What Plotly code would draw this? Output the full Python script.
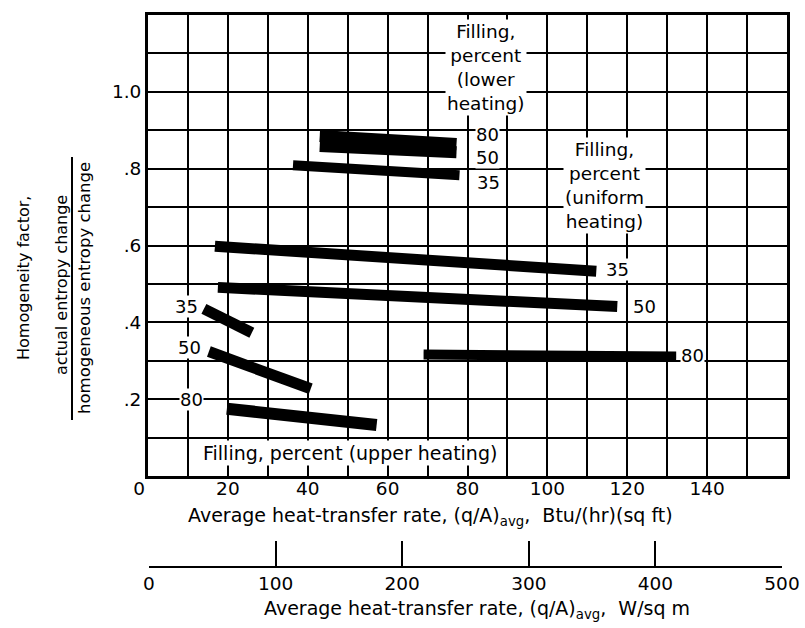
import plotly.graph_objects as go

# ---- data (x: Btu/(hr)(sq ft), y: homogeneity factor) ----
lower80_x = [43.0, 77.25]
lower80_y = [0.885, 0.864]
lower50_x = [43.0, 77.25]
lower50_y = [0.859, 0.843]
lower35_x = [36.3, 78.0]
lower35_y = [0.809, 0.783]

uniform35_x = [16.75, 112.25]
uniform35_y = [0.598, 0.533]
uniform50_x = [17.5, 117.5]
uniform50_y = [0.491, 0.441]
uniform80_x = [69.0, 132.25]
uniform80_y = [0.316, 0.311]

upper35_x = [14.0, 26.0]
upper35_y = [0.435, 0.373]
upper50_x = [15.25, 40.75]
upper50_y = [0.324, 0.227]
upper80_x = [19.75, 57.25]
upper80_y = [0.175, 0.133]

x_ticks = [0, 20, 40, 60, 80, 100, 120, 140]
x_ticktext = ["0\u00a0\u00a0\u00a0", "20", "40", "60", "80", "100", "120", "140"]
y_ticks = [0.2, 0.4, 0.6, 0.8, 1.0]
y_ticktext = [".2", ".4", ".6", ".8", "1.0"]
w_ticks = [0, 100, 200, 300, 400, 500]

FONT = "DejaVu Sans, sans-serif"

W, H = 805, 628
ML, MR, MT, MB = 148, 18, 15, 61
PW = W - ML - MR
PH = H - MT - MB
y_bottom_px = 476
ydom0 = (H - MB - y_bottom_px) / PH

fig = go.Figure()

series = [
    (lower80_x, lower80_y, 12), (lower50_x, lower50_y, 12), (lower35_x, lower35_y, 10),
    (uniform35_x, uniform35_y, 11), (uniform50_x, uniform50_y, 11), (uniform80_x, uniform80_y, 10),
    (upper35_x, upper35_y, 11), (upper50_x, upper50_y, 11), (upper80_x, upper80_y, 12),
]
for xs, ys, lw in series:
    fig.add_trace(go.Scatter(x=xs, y=ys, mode="lines",
                             line=dict(color="black", width=lw),
                             showlegend=False, hoverinfo="skip"))

# invisible trace for second (SI) axis
fig.add_trace(go.Scatter(x=w_ticks, y=[None] * len(w_ticks), xaxis="x2", yaxis="y",
                         mode="markers", showlegend=False, hoverinfo="skip"))

grid = dict(showgrid=True, gridcolor="black", gridwidth=2)

fig.update_layout(
    width=W, height=H,
    margin=dict(l=ML, r=MR, t=MT, b=MB, autoexpand=False),
    paper_bgcolor="white", plot_bgcolor="rgba(0,0,0,0)",
    font=dict(family=FONT, size=17, color="black"),
    xaxis=dict(range=[0, 160], domain=[0, 1], anchor="y", automargin=False,
               tickvals=x_ticks, ticktext=x_ticktext,
               ticks="", zeroline=False, ticklabelstandoff=-6,
               showline=True, linecolor="black", linewidth=3, mirror=True,
               minor=dict(dtick=10, tick0=0, showgrid=True, gridcolor="black", gridwidth=2),
               tickfont=dict(size=18.5), **grid),
    yaxis=dict(range=[0, 1.2], domain=[ydom0, 1], automargin=False,
               tickvals=y_ticks, ticktext=y_ticktext,
               ticks="", zeroline=False,
               showline=True, linecolor="black", linewidth=3, mirror=True,
               minor=dict(dtick=0.1, tick0=0, showgrid=True, gridcolor="black", gridwidth=2),
               tickfont=dict(size=18.5), **grid),
    xaxis2=dict(range=[0, 500], domain=[1 / PW, (782 - ML) / PW], automargin=False,
                anchor="free", position=0, side="bottom",
                tickvals=w_ticks, ticktext=[str(v) for v in w_ticks],
                ticks="inside", ticklen=25, tickwidth=2, tickcolor="black",
                showline=True, linecolor="black", linewidth=2,
                showgrid=False, zeroline=False, tickfont=dict(size=18.5)),
)

def px2x(px):
    return (px - ML) / PW

def py2y(py):
    return (H - MB - py) / PH

C = dict(xanchor="center", yanchor="middle", showarrow=False)
ann = []
# axis titles
ann.append(dict(text="Average heat-transfer rate, (q/A)<sub>avg</sub>,  Btu/(hr)(sq ft)",
                x=px2x(430), y=py2y(516), xref="paper", yref="paper", font=dict(size=19), **C))
ann.append(dict(text="Average heat-transfer rate, (q/A)<sub>avg</sub>,  W/sq m",
                x=px2x(477), y=py2y(609), xref="paper", yref="paper", font=dict(size=19), **C))
# y title (rotated)
ann.append(dict(text="Homogeneity factor,", x=px2x(23), y=py2y(278), xref="paper", yref="paper",
                textangle=-90, font=dict(size=16), **C))
ann.append(dict(text="actual entropy change", x=px2x(61), y=py2y(285), xref="paper", yref="paper",
                textangle=-90, font=dict(size=16), **C))
ann.append(dict(text="homogeneous entropy change", x=px2x(84), y=py2y(288), xref="paper", yref="paper",
                textangle=-90, font=dict(size=16.5), **C))

lab = dict(xref="x", yref="y", bgcolor="white", **C)
box = dict(size=18.5)
num = dict(size=18)
# lower heating
ann.append(dict(text="Filling,<br>percent<br>(lower<br>heating)", x=84.75, y=1.063, font=box, **lab))
ann.append(dict(text="80", x=85.0, y=0.888, borderpad=0, font=num, **lab))
ann.append(dict(text="50", x=85.0, y=0.830, borderpad=0, font=num, **lab))
ann.append(dict(text="35", x=85.25, y=0.765, borderpad=0, font=num, **lab))
# uniform heating
ann.append(dict(text="Filling,<br>percent<br>(uniform<br>heating)", x=114.25, y=0.755, font=box, **lab))
ann.append(dict(text="35", x=117.5, y=0.538, borderpad=0, font=num, **lab))
ann.append(dict(text="50", x=124.25, y=0.441, borderpad=0, font=num, **lab))
ann.append(dict(text="80", x=136.25, y=0.313, borderpad=0, font=num, **lab))
# upper heating
ann.append(dict(text="35", x=9.75, y=0.441, borderpad=0, font=num, **lab))
ann.append(dict(text="50", x=10.5, y=0.334, borderpad=0, font=num, **lab))
ann.append(dict(text="80", x=11.0, y=0.198, borderpad=0, font=num, **lab))
ann.append(dict(text="Filling, percent (upper heating)", x=50.5, y=0.06, font=dict(size=19), **lab))

fig.update_layout(annotations=ann)

# fraction bar of the y title
fig.add_shape(type="line", xref="paper", yref="paper",
              x0=px2x(72), x1=px2x(72), y0=py2y(157), y1=py2y(420),
              line=dict(color="black", width=2))

fig.write_html("out.html")
